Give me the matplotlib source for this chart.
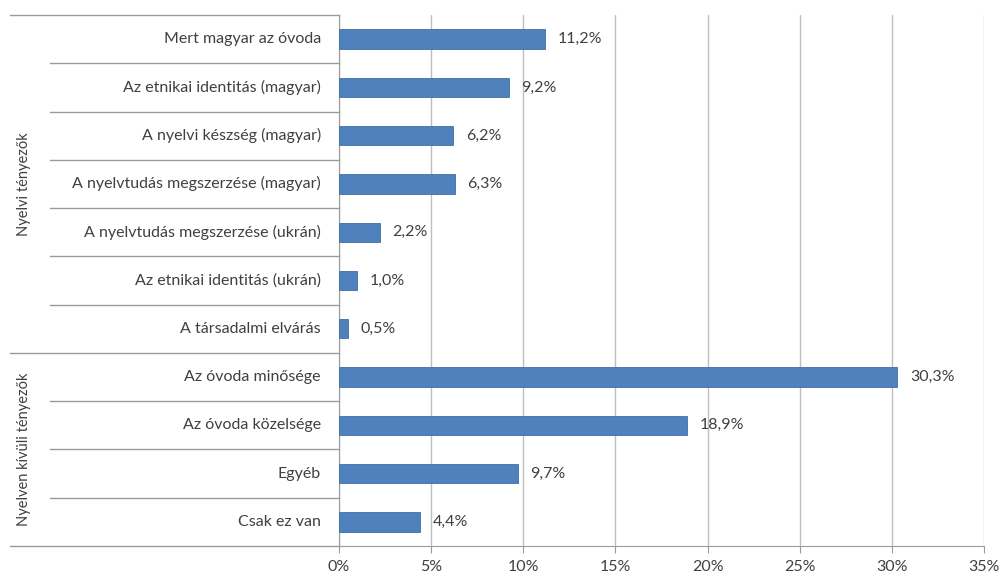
import numpy as np
import matplotlib
matplotlib.use('Agg')
import matplotlib.pyplot as plt
from matplotlib.transforms import blended_transform_factory

# data (top to bottom)
categories = ['Mert magyar az óvoda',
              'Az etnikai identitás (magyar)',
              'A nyelvi készség (magyar)',
              'A nyelvtudás megszerzése (magyar)',
              'A nyelvtudás megszerzése (ukrán)',
              'Az etnikai identitás (ukrán)',
              'A társadalmi elvárás',
              'Az óvoda minősége',
              'Az óvoda közelsége',
              'Egyéb',
              'Csak ez van']
values = [11.2, 9.2, 6.2, 6.3, 2.2, 1.0, 0.5, 30.3, 18.9, 9.7, 4.4]
groups = ['Nyelvi tényezők', 'Nyelven kívüli tényezők']
group_sizes = [7, 4]
xticks = [0, 5, 10, 15, 20, 25, 30, 35]

plt.rcParams['font.family'] = ['Lato', 'DejaVu Sans']
txt_color = '#404040'
line_color = '#9A9A9A'

fig = plt.figure(figsize=(10.03, 5.79), dpi=100)
ax = fig.add_axes([339/1003, 1 - 546/579, 645/1003, 531/579])

n = len(categories)
y = np.arange(n)
ax.barh(y, values, height=0.4, color='#4F81BD', edgecolor='#3F6FA8', linewidth=0.6, zorder=3)
for yi, v in zip(y, values):
    ax.annotate(f'{v:.1f}%'.replace('.', ','), (v, yi), xytext=(9, 0),
                textcoords='offset points', va='center', ha='left',
                fontsize=11.5, color=txt_color)

ax.set_ylim(n - 0.5, -0.5)
ax.set_xlim(0, 35)
ax.set_xticks(xticks)
ax.set_xticklabels([f'{t}%' for t in xticks], fontsize=11.5, color=txt_color)
ax.grid(axis='x', color='#BFBFBF', linewidth=1, zorder=0)
ax.set_yticks([])

for s in ['top', 'right']:
    ax.spines[s].set_visible(False)
ax.spines['left'].set_color(line_color)
ax.spines['bottom'].set_color(line_color)
ax.tick_params(axis='x', length=5, color=line_color, pad=5)

# category labels
for yi, c in zip(y, categories):
    ax.annotate(c, (0, yi), xytext=(-13, 0), textcoords='offset points',
                ha='right', va='center', fontsize=11.5, color=txt_color,
                xycoords=('axes fraction', 'data'))

# table lines on the left
tr = blended_transform_factory(fig.transFigure, ax.transData)
x_outer = 10 / 1003
x_inner = 50 / 1003
x_axis = 339 / 1003
bounds = np.cumsum([0] + group_sizes) - 0.5
fig.add_artist(plt.Line2D([x_outer, x_axis], [bounds[0], bounds[0]], transform=tr, color=line_color, lw=1))
start = 0
for g, size in zip(groups, group_sizes):
    for k in range(1, size):
        yb = start + k - 0.5
        fig.add_artist(plt.Line2D([x_inner, x_axis], [yb, yb], transform=tr, color=line_color, lw=1))
    yb = start + size - 0.5
    fig.add_artist(plt.Line2D([x_outer, x_axis], [yb, yb], transform=tr, color=line_color, lw=1))
    fig.text(24 / 1003, start + (size - 1) / 2, g, transform=tr,
             rotation=90, ha='center', va='center', fontsize=10.5, color=txt_color)
    start += size

fig.savefig('out.png', dpi=100)
